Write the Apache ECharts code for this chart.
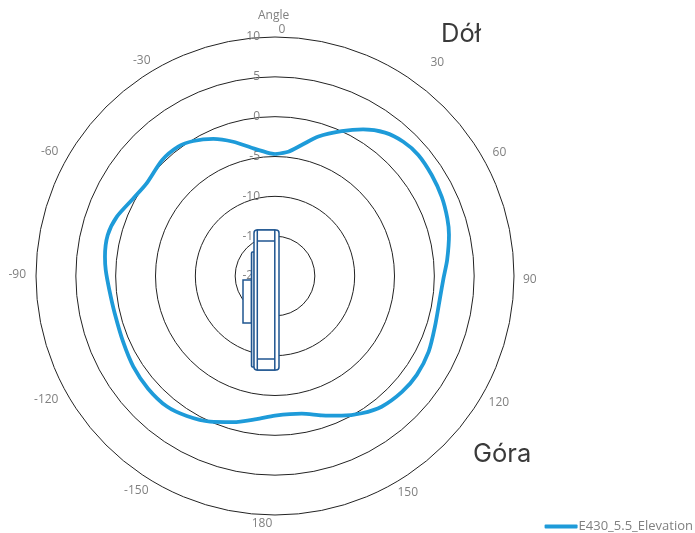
<!DOCTYPE html>
<html><head><meta charset="utf-8">
<style>html,body{margin:0;padding:0;background:#fff}#c{width:695px;height:533px}</style>
<script src="https://cdn.jsdelivr.net/npm/echarts@6/dist/echarts.min.js"></script>
</head><body><div id="c"></div>
<script>
const seriesName = 'E430_5.5_Elevation';
const angles = [0,6.1,11.5,17.3,24.7,31,37.5,43.7,49.8,57.2,64.6,71.5,76.7,84.7,90.8,97.1,107.6,116.2,124.9,132.4,140.8,147.7,154.5,161.5,169,180,187.3,195.9,204,212.2,219.6,228.4,237.4,246.6,256.9,265.2,272,276.5,283.7,290.5,298.7,305.8,315.7,323.2,328.8,335.8,342.7,350.4,357.7,360];
const gains  = [-4.69,-4.31,-3.22,-1.67,0,1.46,2.68,3.31,3.55,3.4,3.17,2.81,2.44,1.7,1.15,0.9,1.06,1.5,1.7,1.58,1.17,0.38,-0.57,-1.56,-2.39,-2.47,-1.9,-0.92,0.02,0.77,1.27,1.3,1.11,0.78,0.66,0.87,1.26,1.48,1.62,1.21,0.28,-0.13,0.3,0.27,-0.19,-1.13,-2.35,-3.75,-4.59,-4.69];
// per-tick label padding [top,right,bottom,left]
const tickPad = {0:[0,0,5,14],30:[0,0,4,38],60:[0,0,0,14],90:[8,0,0,13],120:[3,0,0,10],150:[7,0,0,5],180:[7,26,0,0],210:[5,9,0,0],240:[0,13,0,0],270:[0,14,2,0],300:[0,13,1,0],330:[0,7,6,0]};
const labelStyle = {color:'#808080',fontFamily:'Open Sans',fontSize:12};
const rich = {};
Object.keys(tickPad).forEach(k=>{rich['t'+k]=Object.assign({padding:tickPad[k]},labelStyle);});
const chart = echarts.init(document.getElementById('c'));
const ink = '#1f5590';
const dev = (shape, fill) => ({type:'rect', z:100, shape, style:{fill:fill||'#fff', stroke:ink, lineWidth:1.5}});
chart.setOption({
  animation:false,
  polar:{center:[275,276], radius:239},
  angleAxis:{
    min:0,max:360,interval:30,startAngle:90,clockwise:true,
    axisTick:{show:false},splitLine:{show:false},
    axisLine:{show:false},
    axisLabel:Object.assign({},labelStyle,{margin:-4,
      formatter:v=> v===360?'':`{t${v}|${v>180?v-360:v}}`,rich})
  },
  radiusAxis:{
    min:-20,max:10,interval:5,
    axisLine:{show:false},axisTick:{show:false},
    splitLine:{show:true,lineStyle:{color:'#222',width:1}},
    axisLabel:Object.assign({},labelStyle,{margin:15})
  },
  legend:{right:-3,top:515,icon:'roundRect',itemWidth:33,itemHeight:4,itemGap:0,
    textStyle:{color:'#808080',fontFamily:'Open Sans',fontSize:13,padding:[0,0,0,-4]}},
  series:[{name:seriesName,type:'line',coordinateSystem:'polar',smooth:0.25,showSymbol:false,
    data:angles.map((a,i)=>[gains[i],a]),
    lineStyle:{color:'#1e9bd9',width:3.8,join:'round'},itemStyle:{color:'#1e9bd9'}}],
  graphic:[
    {type:'text',left:258,top:10,z:50,style:{text:'Angle',fill:'#808080',font:'12px "Open Sans"'}},
    {type:'text',left:441,top:21,z:50,style:{text:'Dół',fill:'#3a3a3a',font:'25.5px Inter'}},
    {type:'text',left:473,top:441,z:50,style:{text:'Góra',fill:'#3a3a3a',font:'25.5px Inter'}},
    dev({x:243,y:280,width:8.5,height:43}),
    dev({x:251.5,y:252,width:3,height:115,r:1},'#dfe6ee'),
    dev({x:254,y:230,width:25,height:140,r:3}),
    dev({x:257.3,y:230,width:17.5,height:140}),
    {type:'line',z:101,shape:{x1:257,y1:241,x2:275,y2:241},style:{stroke:ink,lineWidth:1.5}},
    {type:'line',z:101,shape:{x1:257,y1:359,x2:275,y2:359},style:{stroke:ink,lineWidth:1.5}}
  ]
});
</script></body></html>
